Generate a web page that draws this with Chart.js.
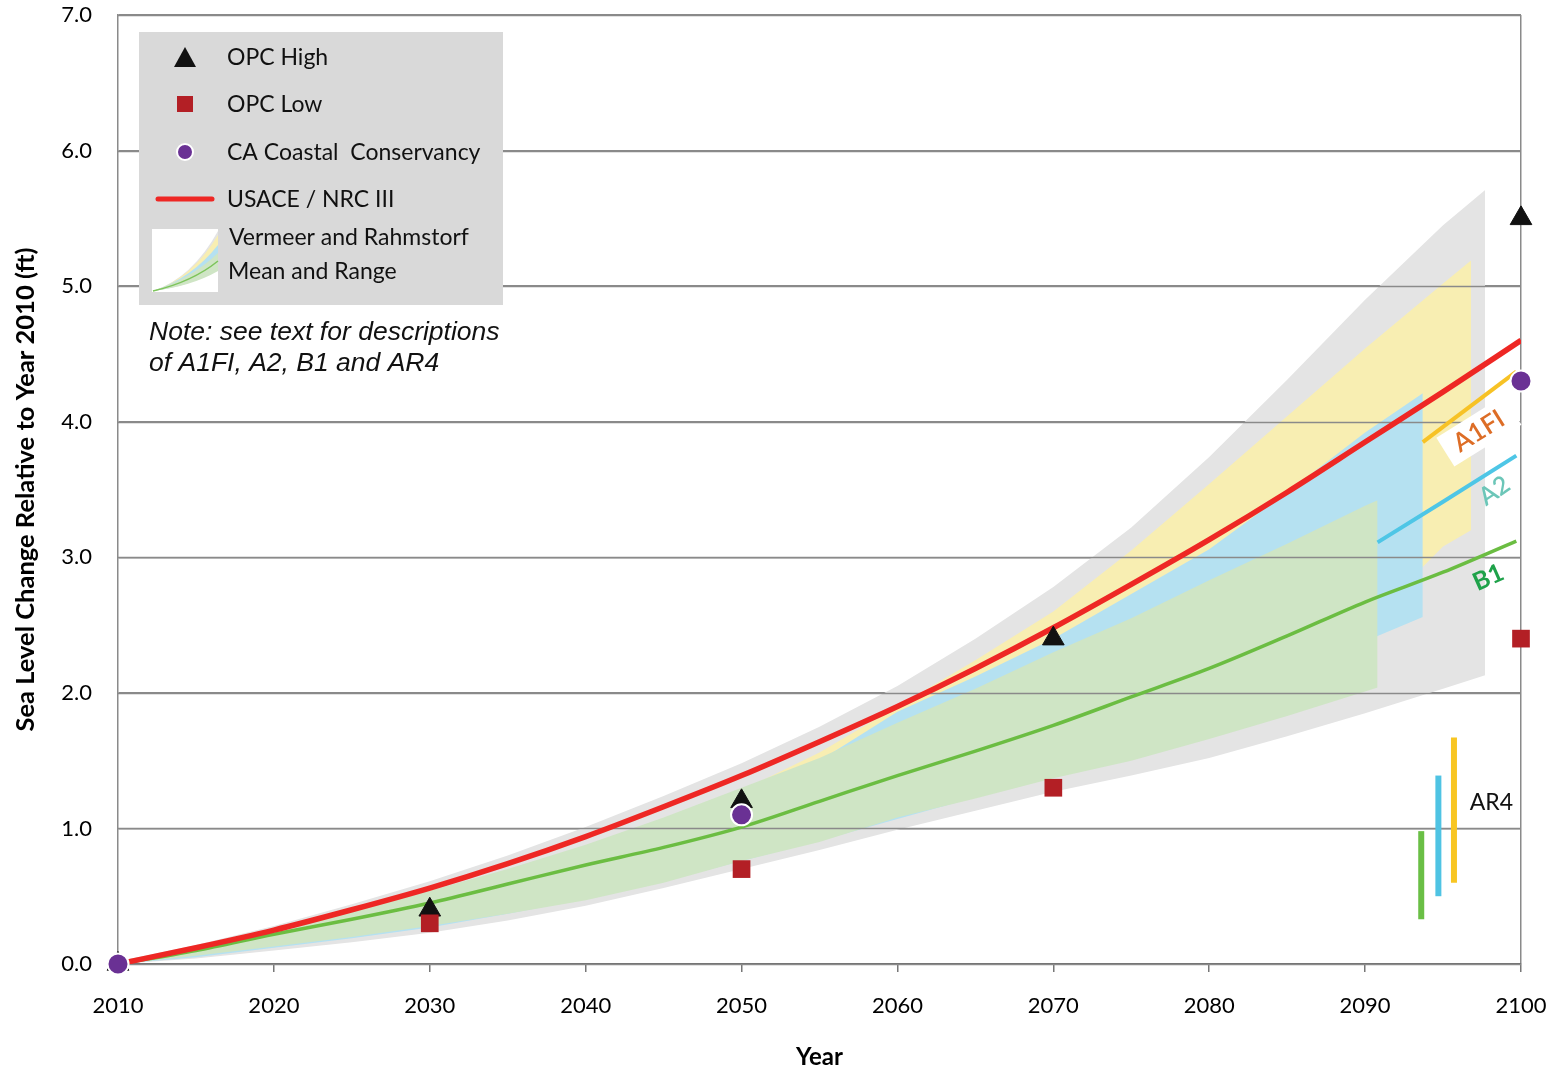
<!DOCTYPE html>
<html>
<head>
<meta charset="utf-8">
<script src="https://cdn.jsdelivr.net/npm/chart.js@4.4.1/dist/chart.umd.min.js"></script>
<style>
  html, body { margin: 0; padding: 0; background: #fff; }
  #wrap { width: 1560px; height: 1072px; }
</style>
</head>
<body>
<div id="wrap"><canvas id="chartSeaLevel" width="1560" height="1072"></canvas></div>
<script>
// --- data (ft relative to 2010) ---
const fiveYears = [2010, 2015, 2020, 2025, 2030, 2035, 2040, 2045, 2050, 2055, 2060, 2065, 2070, 2075, 2080, 2085, 2090, 2095];

const nrcYears = [...fiveYears, 2100];
const nrcIII = [0, 0.12, 0.25, 0.40, 0.56, 0.74, 0.94, 1.16, 1.39, 1.64, 1.90, 2.18, 2.48, 2.80, 3.13, 3.48, 3.85, 4.22, 4.60];

const b1Years = [...fiveYears, 2099.7];
const b1Mean = [0, 0.10, 0.22, 0.33, 0.45, 0.59, 0.73, 0.86, 1.01, 1.20, 1.39, 1.57, 1.76, 1.97, 2.18, 2.42, 2.67, 2.89, 3.12];
const a2Years = [2090.8, 2095, 2099.7];
const a2Mean = [3.11, 3.41, 3.75];
const a1fiYears = [2093.7, 2099.7];
const a1fiMean = [3.85, 4.37];

// Vermeer & Rahmstorf ranges
const grayYears = [...fiveYears, 2097.7];
const grayLow  = [0, 0.04, 0.10, 0.16, 0.23, 0.32, 0.43, 0.56, 0.70, 0.84, 0.99, 1.13, 1.27, 1.39, 1.52, 1.68, 1.85, 2.03, 2.13];
const grayHigh = [0.02, 0.14, 0.28, 0.44, 0.61, 0.80, 1.01, 1.24, 1.48, 1.75, 2.05, 2.40, 2.78, 3.22, 3.74, 4.31, 4.90, 5.45, 5.71];

const yellowYears = [...fiveYears, 2096.8];
const yellowLow  = [0, 0.06, 0.14, 0.21, 0.29, 0.39, 0.50, 0.64, 0.80, 0.97, 1.15, 1.32, 1.50, 1.70, 1.90, 2.15, 2.50, 3.08, 3.20];
const yellowHigh = [0.01, 0.11, 0.22, 0.35, 0.48, 0.64, 0.82, 1.04, 1.28, 1.56, 1.90, 2.24, 2.60, 3.05, 3.54, 4.04, 4.54, 5.02, 5.19];

const blueYears = [...fiveYears.slice(0, 17), 2093.7];
const blueLow  = [0, 0.05, 0.12, 0.19, 0.27, 0.37, 0.48, 0.61, 0.76, 0.91, 1.07, 1.23, 1.40, 1.58, 1.78, 2.05, 2.38, 2.56];
const blueHigh = [0.01, 0.11, 0.22, 0.34, 0.47, 0.62, 0.80, 1.00, 1.22, 1.50, 1.86, 2.12, 2.40, 2.73, 3.06, 3.48, 3.92, 4.21];

const greenYears = [...fiveYears.slice(0, 17), 2090.8];
const greenLow  = [0, 0.06, 0.13, 0.20, 0.28, 0.37, 0.47, 0.60, 0.76, 0.90, 1.08, 1.22, 1.37, 1.50, 1.66, 1.83, 2.01, 2.04];
const greenHigh = [0.02, 0.13, 0.26, 0.39, 0.54, 0.70, 0.88, 1.08, 1.30, 1.52, 1.78, 2.03, 2.30, 2.55, 2.83, 3.10, 3.38, 3.42];

// AR4 ranges (B1, A2, A1FI)
const ar4Years = [2093.6, 2094.7, 2095.7];
const ar4Low  = [0.33, 0.50, 0.60];
const ar4High = [0.98, 1.39, 1.67];

// point projections
const opcHighYears = [2010, 2030, 2050, 2070, 2100];
const opcHigh = [0, 0.4, 1.2, 2.4, 5.5];
const opcLowYears = [2030, 2050, 2070, 2100];
const opcLow = [0.3, 0.7, 1.3, 2.4];
const cccYears = [2010, 2050, 2100];
const cccValues = [0, 1.1, 4.3];

const yTicks = [0, 1, 2, 3, 4, 5, 6, 7];

const xy = (xs, ys) => xs.map((x, i) => ({ x: x, y: ys[i] }));

const gridColor = '#8a8a8a';
const colGray = '#e4e4e4', colYellow = '#f8eeb2', colBlue = '#b5e1f1', colGreen = '#cfe5c5';
const ar4Colors = ['#6abf45', '#4fc3e3', '#f8c623'];

function band(low, high, xs, color, order, extra) {
    return [
        { data: xy(xs, low), borderColor: 'rgba(0,0,0,0)', borderWidth: 0, pointRadius: 0, fill: false, order: order + 1 },
        Object.assign({ data: xy(xs, high), borderColor: 'rgba(0,0,0,0)', borderWidth: 0, pointRadius: 0,
            fill: '-1', backgroundColor: color, order: order }, extra || {})
    ];
}

const datasets = [
    { label: 'CA Coastal Conservancy', data: xy(cccYears, cccValues), showLine: false, pointStyle: 'circle',
      pointRadius: 10.5, pointBackgroundColor: '#6a3194', pointBorderColor: '#ffffff', pointBorderWidth: 2, order: 1, clip: false },
    { label: 'OPC Low', data: xy(opcLowYears, opcLow), showLine: false, pointStyle: 'rect',
      pointRadius: 12.5, pointBackgroundColor: '#b31f25', pointBorderColor: '#b31f25', pointBorderWidth: 0, order: 2, clip: false },
    { label: 'OPC High', data: xy(opcHighYears, opcHigh), showLine: false, pointStyle: 'triangle',
      pointRadius: 12.5, pointBackgroundColor: '#111111', pointBorderColor: '#111111', pointBorderWidth: 1, order: 3, clip: false },
    { label: 'USACE / NRC III', data: xy(nrcYears, nrcIII), borderColor: '#ee2724', borderWidth: 5.5,
      pointRadius: 0, cubicInterpolationMode: 'monotone', order: 5 },
    { label: 'A1FI', data: xy(a1fiYears, a1fiMean), borderColor: '#f7c225', borderWidth: 4, pointRadius: 0, order: 7 },
    { label: 'A2', data: xy(a2Years, a2Mean), borderColor: '#4ec6e6', borderWidth: 4, pointRadius: 0, order: 7 },
    { label: 'B1', data: xy(b1Years, b1Mean), borderColor: '#6bbd42', borderWidth: 3.5, pointRadius: 0,
      cubicInterpolationMode: 'monotone', order: 7 }
];
ar4Years.forEach((yr, i) => {
    datasets.push({ label: 'AR4', data: [{ x: yr, y: ar4Low[i] }, { x: yr, y: ar4High[i] }],
        borderColor: ar4Colors[i], borderWidth: 6, borderCapStyle: 'butt', pointRadius: 0, order: 6 });
});
datasets.push(...band(grayLow, grayHigh, grayYears, colGray, 60));
datasets.push(...band(yellowLow, yellowHigh, yellowYears, colYellow, 50));
datasets.push(...band(blueLow, blueHigh, blueYears, colBlue, 40));
datasets.push(...band(greenLow, greenHigh, greenYears, colGreen, 30, { gridOnTop: true }));

// gridlines sit above the shaded ranges but under the lines
const gridOverBands = {
    id: 'gridOverBands',
    afterDatasetDraw(chart, args) {
        if (!chart.data.datasets[args.index].gridOnTop) return;
        const { ctx, chartArea, scales: { y } } = chart;
        ctx.save();
        ctx.strokeStyle = gridColor;
        ctx.lineWidth = 1.5;
        yTicks.forEach(v => {
            const py = Math.round(y.getPixelForValue(v)) + 0.5;
            ctx.beginPath();
            ctx.moveTo(chartArea.left, py);
            ctx.lineTo(chartArea.right, py);
            ctx.stroke();
        });
        ctx.restore();
    }
};

function rotatedLabel(ctx, text, x, y, deg, color, font, box) {
    ctx.save();
    ctx.translate(x, y);
    ctx.rotate(deg * Math.PI / 180);
    ctx.font = font;
    ctx.textAlign = 'center';
    ctx.textBaseline = 'middle';
    if (box) {
        const w = ctx.measureText(text).width + 24;
        ctx.fillStyle = box;
        ctx.fillRect(-w / 2, -17, w, 34);
    }
    ctx.fillStyle = color;
    ctx.fillText(text, 0, 0);
    ctx.restore();
}

const annotations = {
    id: 'annotations',
    afterDraw(chart) {
        const { ctx, chartArea, scales: { x, y } } = chart;
        // scenario labels
        rotatedLabel(ctx, 'A1FI', x.getPixelForValue(2097.3), y.getPixelForValue(3.93), -32, '#dd6d26', '600 26px Lato', '#ffffff');
        rotatedLabel(ctx, 'A2', x.getPixelForValue(2098.3), y.getPixelForValue(3.49), -34, '#6cc6b8', '600 25px Lato');
        rotatedLabel(ctx, 'B1', x.getPixelForValue(2097.9), y.getPixelForValue(2.85), -24, '#1fa24a', 'bold 25px Lato');
        rotatedLabel(ctx, 'AR4', x.getPixelForValue(2098.1), y.getPixelForValue(1.19), 0, '#111111', '23px Lato');

        // legend box
        const lx = chartArea.left + 21, ly = chartArea.top + 17;
        ctx.save();
        ctx.fillStyle = '#d9d9d9';
        ctx.fillRect(lx, ly, 364, 273);
        ctx.font = '23px Lato';
        ctx.fillStyle = '#111111';
        ctx.textBaseline = 'middle';
        ctx.textAlign = 'left';
        const tx = lx + 88;
        ctx.fillText('OPC High', tx, ly + 26);
        ctx.fillText('OPC Low', tx, ly + 73);
        ctx.fillText('CA Coastal  Conservancy', tx, ly + 121);
        ctx.fillText('USACE / NRC III', tx, ly + 168);
        ctx.fillText('Vermeer and Rahmstorf', tx + 2, ly + 206);
        ctx.fillText('Mean and Range', tx + 1, ly + 240);

        // legend symbols
        const sx = lx + 46;
        ctx.fillStyle = '#111111';
        ctx.beginPath();
        ctx.moveTo(sx, ly + 15); ctx.lineTo(sx + 11, ly + 35); ctx.lineTo(sx - 11, ly + 35); ctx.closePath();
        ctx.fill();
        ctx.fillStyle = '#b31f25';
        ctx.fillRect(sx - 8, ly + 64, 16, 16);
        ctx.beginPath();
        ctx.arc(sx, ly + 120, 8, 0, Math.PI * 2);
        ctx.fillStyle = '#6a3194';
        ctx.fill();
        ctx.lineWidth = 2; ctx.strokeStyle = '#ffffff'; ctx.stroke();
        ctx.beginPath();
        ctx.moveTo(sx - 27, ly + 167); ctx.lineTo(sx + 27, ly + 167);
        ctx.lineCap = 'round'; ctx.lineWidth = 5; ctx.strokeStyle = '#ee2724'; ctx.stroke();

        // small range icon
        const ix = lx + 13, iy = ly + 197, iw = 66, ih = 63;
        ctx.fillStyle = '#ffffff';
        ctx.fillRect(ix, iy, iw, ih);
        const fan = (top, bot, col) => {
            ctx.beginPath();
            ctx.moveTo(ix + 1, iy + ih - 1);
            ctx.quadraticCurveTo(ix + 40, iy + ih - 14, ix + iw, iy + top);
            ctx.lineTo(ix + iw, iy + bot);
            ctx.quadraticCurveTo(ix + 40, iy + ih - 6, ix + 1, iy + ih - 1);
            ctx.closePath();
            ctx.fillStyle = col;
            ctx.fill();
        };
        fan(2, 40, colGray);
        fan(6, 30, colYellow);
        fan(16, 34, colBlue);
        fan(24, 42, colGreen);
        ctx.beginPath();
        ctx.moveTo(ix + 1, iy + ih - 1);
        ctx.quadraticCurveTo(ix + 40, iy + ih - 10, ix + iw, iy + 32);
        ctx.lineWidth = 1.5; ctx.lineCap = 'butt'; ctx.strokeStyle = '#7cc45a'; ctx.stroke();

        // note
        ctx.fillStyle = '#111111';
        ctx.font = 'italic 26.5px "Liberation Sans"';
        ctx.fillText('Note: see text for descriptions', chartArea.left + 31, chartArea.top + 318);
        ctx.fillText('of A1FI, A2, B1 and AR4', chartArea.left + 31, chartArea.top + 349);
        ctx.restore();
    }
};

Chart.defaults.font.family = 'Lato';
Chart.defaults.color = '#000000';

const ctx = document.getElementById('chartSeaLevel').getContext('2d');
new Chart(ctx, {
    type: 'line',
    data: { datasets: datasets },
    options: {
        responsive: false,
        animation: false,
        devicePixelRatio: 1,
        layout: { padding: { top: 15, right: 39, bottom: 0, left: 0 } },
        plugins: {
            legend: { display: false },
            tooltip: { enabled: false }
        },
        scales: {
            x: {
                type: 'linear',
                min: 2010,
                max: 2100,
                ticks: { stepSize: 10, padding: 21, font: { size: 22 }, color: '#000', callback: v => String(v) },
                grid: {
                    drawOnChartArea: true,
                    color: c => (c.tick && c.tick.value === 2100) ? gridColor : 'rgba(0,0,0,0)',
                    tickColor: '#777777',
                    tickLength: 8,
                    lineWidth: 1.5
                },
                border: { display: true, color: '#6e6e6e', width: 2 },
                title: { display: true, text: 'Year', font: { size: 24, weight: 'bold' }, color: '#000', padding: { top: 0, bottom: 0 } },
                afterFit: s => { s.height = 108; s.paddingLeft = 0; s.paddingRight = 0; }
            },
            y: {
                min: 0,
                max: 7,
                afterBuildTicks: s => { s.ticks = yTicks.map(v => ({ value: v })); },
                ticks: { padding: 26, font: { size: 22 }, color: '#000', callback: v => Number(v).toFixed(1) },
                grid: { color: gridColor, lineWidth: 1.5, drawTicks: false },
                border: { display: true, color: gridColor, width: 1.5 },
                title: { display: true, text: 'Sea Level Change Relative to Year 2010 (ft)',
                    font: { size: 25.5, weight: 'bold' }, color: '#000', padding: { top: 10, bottom: 0 } },
                afterFit: s => { s.width = 118; s.paddingTop = 0; s.paddingBottom = 0; }
            }
        }
    },
    plugins: [gridOverBands, annotations]
});
</script>
</body>
</html>
